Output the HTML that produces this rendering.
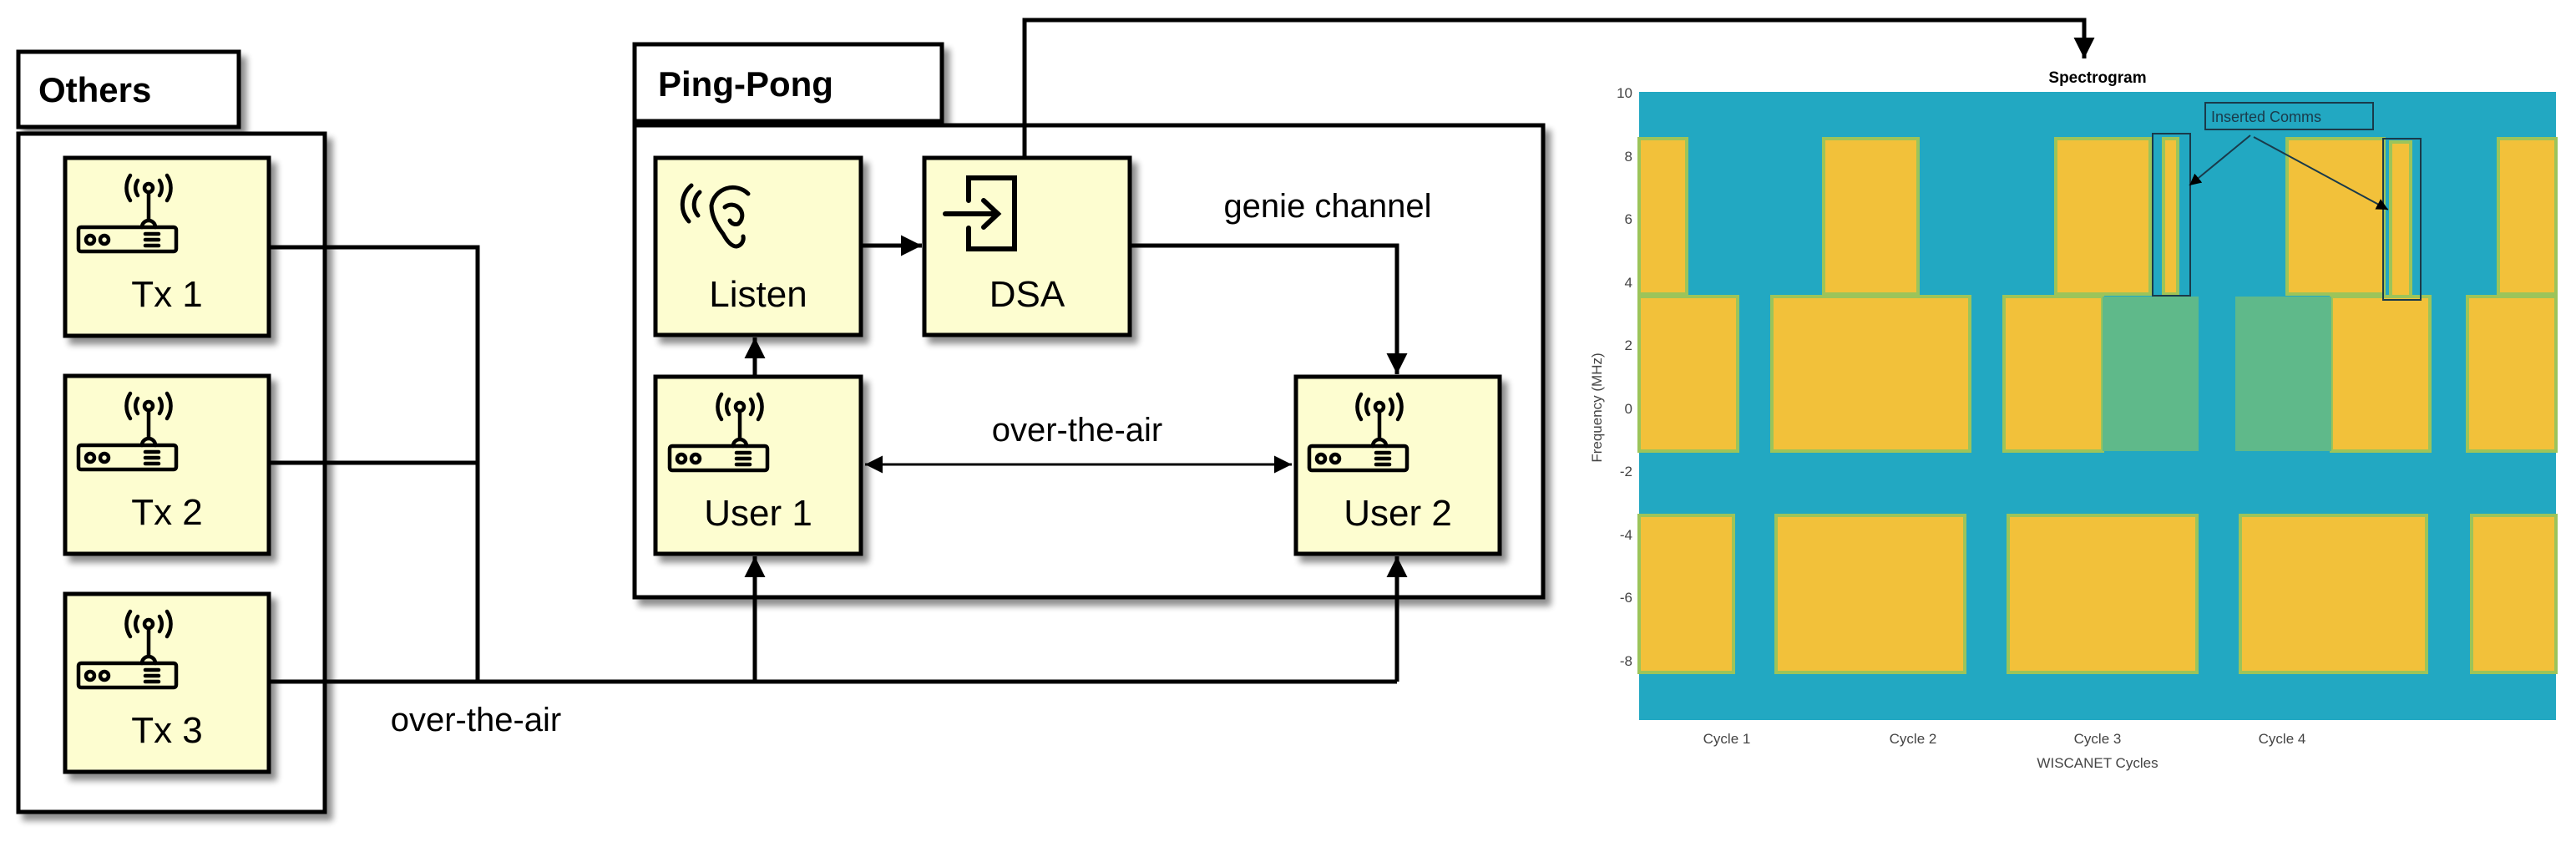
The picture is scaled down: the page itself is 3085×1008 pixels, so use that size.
<!DOCTYPE html>
<html><head><meta charset="utf-8"><style>
html,body{margin:0;padding:0;background:#fff;}
svg{display:block;font-family:"Liberation Sans",sans-serif;}
</style></head><body>
<svg width="3085" height="1008" viewBox="0 0 3085 1008" xmlns="http://www.w3.org/2000/svg">
<defs>
<filter id="sh" x="-10%" y="-10%" width="130%" height="130%"><feGaussianBlur in="SourceAlpha" stdDeviation="4"/><feOffset dx="7" dy="8"/><feComponentTransfer><feFuncA type="linear" slope="0.45"/></feComponentTransfer><feMerge><feMergeNode/><feMergeNode in="SourceGraphic"/></feMerge></filter>
<marker id="ar" viewBox="0 0 10 10" refX="10" refY="5" markerWidth="5" markerHeight="5" orient="auto-start-reverse" markerUnits="strokeWidth"><path d="M0,0 L10,5 L0,10 z" fill="#000"/></marker>
<marker id="ar2" viewBox="0 0 10 10" refX="10" refY="5" markerWidth="7" markerHeight="7" orient="auto-start-reverse" markerUnits="strokeWidth"><path d="M0,0 L10,5 L0,10 z" fill="#000"/></marker>
<g id="router" fill="none" stroke="#000" stroke-width="4.5" stroke-linecap="round">
  <circle cx="0" cy="0" r="5"/>
  <path d="M-13,-9 A16,16 0 0 0 -13,9 M13,-9 A16,16 0 0 1 13,9 M-22,-15 A27,27 0 0 0 -22,15 M22,-15 A27,27 0 0 1 22,15"/>
  <line x1="0" y1="5" x2="0" y2="38"/>
  <path d="M-8,47 A8,8 0 0 1 8,47"/>
  <rect x="-84" y="47" width="117" height="29" rx="3"/>
  <circle cx="-70" cy="62" r="5"/><circle cx="-53" cy="62" r="5"/>
  <line x1="-4" y1="55" x2="12" y2="55"/><line x1="-4" y1="62" x2="12" y2="62"/><line x1="-4" y1="69" x2="12" y2="69"/>
</g>
</defs>

<!-- Others -->
<g filter="url(#sh)">
<rect x="22" y="62" width="264" height="90" fill="#fff" stroke="#000" stroke-width="5"/>
<rect x="22" y="160" width="367" height="812" fill="#fff" stroke="#000" stroke-width="5"/>
</g>
<text x="46" y="122" font-size="42" font-weight="bold">Others</text>

<!-- Ping-Pong -->
<g filter="url(#sh)">
<rect x="760" y="53" width="368" height="92" fill="#fff" stroke="#000" stroke-width="5"/>
<rect x="760" y="150" width="1088" height="565" fill="#fff" stroke="#000" stroke-width="5"/>
</g>
<text x="788" y="115" font-size="42" font-weight="bold">Ping-Pong</text>

<!-- nodes -->
<g filter="url(#sh)" fill="#fdfdd0" stroke="#000" stroke-width="5">
<rect x="78" y="189" width="244" height="213"/>
<rect x="78" y="450" width="244" height="213"/>
<rect x="78" y="711" width="244" height="213"/>
<rect x="785" y="189" width="246" height="212"/>
<rect x="1107" y="189" width="246" height="212"/>
<rect x="785" y="451" width="246" height="212"/>
<rect x="1552" y="451" width="244" height="212"/>
</g>

<use href="#router" x="178" y="225"/>
<use href="#router" x="178" y="486"/>
<use href="#router" x="178" y="747"/>
<use href="#router" x="886" y="487"/>
<use href="#router" x="1652" y="487"/>

<g font-size="44" text-anchor="middle">
<text x="200" y="367">Tx 1</text>
<text x="200" y="628">Tx 2</text>
<text x="200" y="889">Tx 3</text>
<text x="908" y="367">Listen</text>
<text x="1230" y="367">DSA</text>
<text x="908" y="629">User 1</text>
<text x="1674" y="629">User 2</text>
</g>

<!-- ear icon -->
<g fill="none" stroke="#000" stroke-width="5" stroke-linecap="round">
<path d="M828,222 A30,30 0 0 0 825,265"/>
<path d="M838,230 A20,20 0 0 0 836,258"/>
<path d="M896,232 A26,26 0 0 0 852,246 Q852,262 866,280 Q874,295 882,295 A10,10 0 0 0 890,283"/>
<path d="M868,248 A12,12 0 1 1 884,268 A8,8 0 0 1 874,264"/>
</g>
<!-- enter icon -->
<g fill="none" stroke="#000" stroke-width="6" stroke-linecap="round">
<path d="M1160,240 V213 H1215 V298 H1160 V273"/>
<line x1="1132" y1="256" x2="1195" y2="256"/>
<path d="M1178,240 L1195,256 L1178,272"/>
</g>

<!-- connectors -->
<g fill="none" stroke="#000" stroke-width="5">
<path d="M322,296 H572 V816"/>
<path d="M322,554 H572"/>
<path d="M322,816 H1673"/>
<path d="M904,816 V666" marker-end="url(#ar)"/>
<path d="M1673,816 V666" marker-end="url(#ar)"/>
<path d="M1031,294 H1104" marker-end="url(#ar)"/>
<path d="M904,451 V404" marker-end="url(#ar)"/>
<path d="M1353,294 H1673 V448" marker-end="url(#ar)"/>
<path d="M1227,189 V24 H2496 V70" marker-end="url(#ar)"/>
</g>
<path d="M1036,556 H1547" fill="none" stroke="#000" stroke-width="3" marker-start="url(#ar2)" marker-end="url(#ar2)"/>

<g font-size="40" text-anchor="middle">
<text x="1590" y="260">genie channel</text>
<text x="1290" y="528">over-the-air</text>
<text x="570" y="875">over-the-air</text>
</g>

<!-- spectrogram -->
<text x="2512" y="99" font-size="19" font-weight="bold" text-anchor="middle">Spectrogram</text>
<rect x="1963" y="110" width="1098" height="752" fill="#22a8c2"/>
<g fill="#f2c13a" stroke="#9cc45a" stroke-width="4">
<rect x="1963" y="166" width="57" height="186"/>
<rect x="2184" y="166" width="113" height="186"/>
<rect x="2462" y="166" width="113" height="186"/>
<rect x="2591" y="166" width="17" height="186"/>
<rect x="2739" y="166" width="116" height="186"/>
<rect x="2863" y="170" width="24" height="186"/>
<rect x="2992" y="166" width="69" height="186"/>
<rect x="1963" y="355" width="118" height="185"/>
<rect x="2122" y="355" width="237" height="185"/>
<rect x="2400" y="355" width="118" height="185"/>
<rect x="2792" y="355" width="118" height="185"/>
<rect x="2955" y="355" width="106" height="185"/>
<rect x="1963" y="617" width="113" height="188"/>
<rect x="2127" y="617" width="226" height="188"/>
<rect x="2405" y="617" width="226" height="188"/>
<rect x="2683" y="617" width="223" height="188"/>
<rect x="2960" y="617" width="101" height="188"/>
</g>
<g fill="#5fb98a">
<rect x="2518" y="355" width="115" height="185"/>
<rect x="2677" y="355" width="115" height="185"/>
</g>
<g fill="none" stroke="#1a3a4a" stroke-width="2">
<rect x="2578" y="160" width="45" height="194"/>
<rect x="2854" y="166" width="45" height="193"/>
<rect x="2641" y="123" width="201" height="32"/>
<line x1="2695" y1="162" x2="2622" y2="222" marker-end="url(#ar2)"/>
<line x1="2699" y1="164" x2="2860" y2="251" marker-end="url(#ar2)"/>
</g>
<text x="2648" y="146" font-size="18" fill="#1a3a4a">Inserted Comms</text>

<g font-size="17" fill="#444" text-anchor="end">
<text x="1955" y="117">10</text>
<text x="1955" y="193">8</text>
<text x="1955" y="268">6</text>
<text x="1955" y="344">4</text>
<text x="1955" y="419">2</text>
<text x="1955" y="495">0</text>
<text x="1955" y="570">-2</text>
<text x="1955" y="646">-4</text>
<text x="1955" y="721">-6</text>
<text x="1955" y="797">-8</text>
</g>
<text transform="translate(1918,488) rotate(-90)" font-size="17" fill="#444" text-anchor="middle">Frequency (MHz)</text>
<g font-size="17" fill="#444" text-anchor="middle">
<text x="2068" y="890">Cycle 1</text>
<text x="2291" y="890">Cycle 2</text>
<text x="2512" y="890">Cycle 3</text>
<text x="2733" y="890">Cycle 4</text>
<text x="2512" y="919">WISCANET Cycles</text>
</g>
</svg>
</body></html>
